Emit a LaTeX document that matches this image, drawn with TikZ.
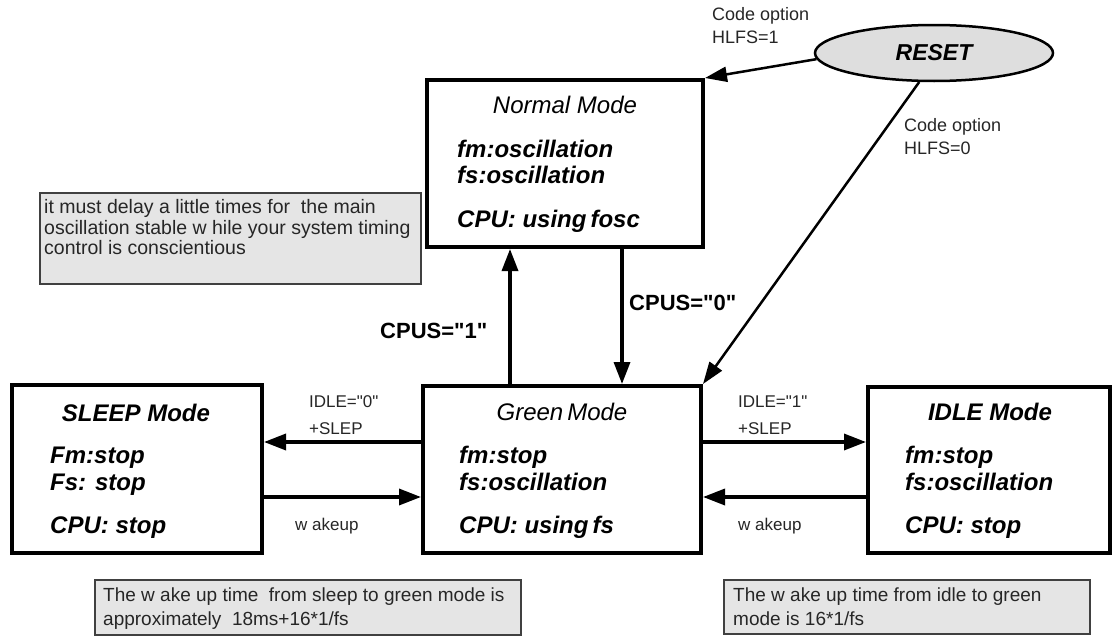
\documentclass[tikz,border=0pt]{standalone}
\usepackage{fontspec}
\setmainfont{Liberation Sans}
\usetikzlibrary{arrows.meta,shapes.geometric}
\begin{document}
\begin{tikzpicture}[x=1pt,y=-1pt,
  modebox/.style={draw, line width=4pt, inner sep=0pt},
  hdr/.style={font=\fontsize{24}{28}\selectfont\itshape, anchor=base, inner sep=0pt},
  hdrb/.style={hdr, font=\fontsize{24}{28}\selectfont\bfseries\itshape},
  body/.style={font=\fontsize{24}{28}\selectfont\bfseries\itshape, anchor=base west, inner sep=0pt},
  small/.style={font=\fontsize{18}{22}\selectfont, anchor=base west, inner sep=0pt, text=black!85},
  notetxt/.style={small, font=\fontsize{19.5}{23}\selectfont},
  notetxtb/.style={small, font=\fontsize{19}{23}\selectfont},
  lbl/.style={font=\fontsize{17}{20}\selectfont, anchor=base west, inner sep=0pt, text=black!85},
  cpus/.style={font=\fontsize{22}{26}\selectfont\bfseries, anchor=base west, inner sep=0pt},
  note/.style={draw=black!75, fill=black!10, line width=1.2pt, inner sep=0pt},
  arr/.style={line width=3.4pt, -{Triangle[length=22pt,width=16pt]}},
  rarr/.style={line width=2.5pt, -{Triangle[length=22pt,width=15pt]}}
]
\useasboundingbox (0,0) rectangle (1112,637);

% mode boxes
\node[modebox, minimum width=276pt, minimum height=167pt] (normal) at (565,163.5) {};
\node[modebox, minimum width=278pt, minimum height=167pt] (green) at (562,469.5) {};
\node[modebox, minimum width=250pt, minimum height=168pt] (sleep) at (137,469) {};
\node[modebox, minimum width=242pt, minimum height=166pt] (idle) at (989,470) {};

% reset ellipse
\node[ellipse, draw, fill=black!13, line width=2.5pt, minimum width=238pt, minimum height=56pt, inner sep=0pt,
      font=\fontsize{23}{27}\selectfont\bfseries\itshape] (reset) at (934,53) {RESET};

% notes
\node[note, minimum width=381pt, minimum height=91pt] (note1) at (230.5,238.5) {};
\node[note, minimum width=426pt, minimum height=55pt] (note2) at (308,607.5) {};
\node[note, minimum width=366pt, minimum height=54pt] (note3) at (907,607) {};

% texts: normal
\node[hdr] (nh) at (565,113) {Normal Mode};
\node[body] (n1) at (457,157) {fm:oscillation};
\node[body] (n2) at (457,183) {fs:oscillation};
\node[body] (n3) at (457,227) {CPU: using\,fosc};
% green
\node[hdr] (gh) at (562,420) {Green\,Mode};
\node[body] (g1) at (459,463) {fm:stop};
\node[body] (g2) at (459,490) {fs:oscillation};
\node[body] (g3) at (459,533) {CPU: using\,fs};
% sleep
\node[hdrb] (sh) at (136,421) {SLEEP Mode};
\node[body] (s1) at (50,463) {Fm:stop};
\node[body] (s2) at (50,490) {Fs: stop};
\node[body] (s3) at (50,533) {CPU: stop};
% idle
\node[hdrb] (ih) at (990,420) {IDLE Mode};
\node[body] (i1) at (905,463) {fm:stop};
\node[body] (i2) at (905,490) {fs:oscillation};
\node[body] (i3) at (905,533) {CPU: stop};

% helper coordinates
\coordinate (xup) at (510,0);
\coordinate (xdn) at (622,0);
\coordinate (yhi) at (0,442);
\coordinate (ylo) at (0,497);

% connectors
\draw[arr] (green.north -| xup) -- (normal.south -| xup);
\draw[arr] (normal.south -| xdn) -- (green.north -| xdn);
\draw[arr] (green.west |- yhi) -- (sleep.east |- yhi);
\draw[arr] (sleep.east |- ylo) -- (green.west |- ylo);
\draw[arr] (green.east |- yhi) -- (idle.west |- yhi);
\draw[arr] (idle.west |- ylo) -- (green.east |- ylo);
\draw[rarr] (reset.183) -- (normal.north east);
\draw[rarr] (reset.243) -- (green.north east);

% connector labels
\node[small] (c1a) at (712,20.5) {Code option};
\node[small] (c1b) at (712,43.5) {HLFS=1};
\node[small] (c0a) at (904,131.5) {Code option};
\node[small] (c0b) at (904,154.5) {HLFS=0};
\node[cpus] (cp1) at (380,338) {CPUS=\textquotedbl 1\textquotedbl};
\node[cpus] (cp0) at (629,310) {CPUS=\textquotedbl 0\textquotedbl};
\node[lbl] (l0a) at (309,407) {IDLE=\textquotedbl 0\textquotedbl};
\node[lbl] (l0b) at (309,434) {+SLEP};
\node[lbl] (l1a) at (738,407) {IDLE=\textquotedbl 1\textquotedbl};
\node[lbl] (l1b) at (738,434) {+SLEP};
\node[lbl] (w1) at (295,530) {w akeup};
\node[lbl] (w2) at (738,530) {w akeup};

% note texts
\node[notetxt] (t1) at (44,213) {it must delay a little times for \ the main};
\node[notetxt] (t2) at (44,234) {oscillation stable w hile your system timing};
\node[notetxt] (t3) at (44,254.5) {control is conscientious};
\node[notetxtb] (t4) at (103,601.5) {The w ake up time \ from sleep to green mode is};
\node[notetxtb] (t5) at (103,625) {approximately \ 18ms+16*1/fs};
\node[notetxtb] (t6) at (733,601.5) {The w ake up time from idle to green};
\node[notetxtb] (t7) at (733,625) {mode is 16*1/fs};
\end{tikzpicture}
\end{document}
